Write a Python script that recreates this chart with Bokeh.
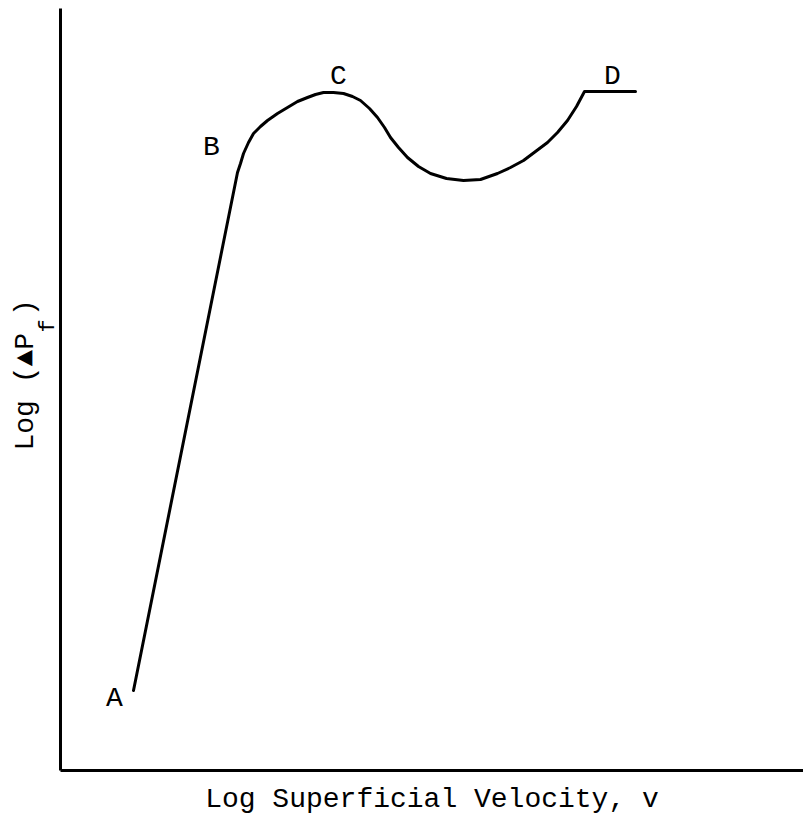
from bokeh.plotting import figure
from bokeh.models import Title, Range1d
from bokeh.embed import file_html
from bokeh.resources import INLINE
from bokeh.core.properties import value

# Curve (arbitrary log units, origin at axes corner)
log_velocity = [7.3, 17.7, 18.0, 18.3, 18.8, 19.3, 20.0, 20.7, 21.7, 22.7, 23.7, 24.7,
                25.5, 26.3, 27.3, 28.3, 29.2, 30.0, 30.9, 31.7, 32.4, 33.0, 33.8, 34.7,
                35.8, 37.0, 38.6, 40.3, 42.0, 43.7, 45.0, 46.3, 47.5, 48.7, 49.7, 50.7,
                51.6, 52.4, 57.5]
log_dp = [8.0, 59.8, 60.7, 61.7, 62.8, 63.7, 64.4, 65.0, 65.7, 66.3, 66.9, 67.3,
          67.6, 67.8, 67.8, 67.7, 67.4, 67.0, 66.2, 65.3, 64.3, 63.3, 62.3, 61.3,
          60.4, 59.7, 59.2, 59.0, 59.1, 59.7, 60.3, 61.0, 61.9, 62.8, 63.8, 65.0,
          66.4, 67.9, 67.9]

point_names = ["A", "B", "C", "D"]
point_x = [5.4, 15.1, 27.8, 55.2]
point_y = [7.2, 62.3, 69.4, 69.4]

x_title = "Log Superficial Velocity, v"
y_title_main = "Log (\u25b2P )"
y_title_sub = "f"

FONT = "Liberation Mono"
FS = "28px"

p = figure(width=803, height=823, output_backend="svg", toolbar_location=None,
           x_range=Range1d(0, 74.3), y_range=Range1d(0, 76.2),
           min_border_left=60, min_border_right=0, min_border_top=8, min_border_bottom=53)
p.outline_line_color = None
p.grid.visible = False
p.background_fill_color = "white"
p.border_fill_color = "white"

for ax in (p.xaxis[0], p.yaxis[0]):
    ax.ticker = []
    ax.major_tick_line_color = None
    ax.minor_tick_line_color = None
    ax.major_tick_out = 0
    ax.major_tick_in = 0
    ax.major_label_standoff = 0
    ax.axis_line_width = 3
    ax.axis_line_color = "black"

p.xaxis.axis_label = x_title
p.xaxis.axis_label_text_font = FONT
p.xaxis.axis_label_text_font_size = FS
p.xaxis.axis_label_text_font_style = "normal"
p.xaxis.axis_label_text_color = "black"
p.xaxis.axis_label_standoff = 13

p.line(log_velocity, log_dp, line_width=3, line_color="black", line_join="round", line_cap="round")

p.text(point_x, point_y, text=point_names, text_font=value(FONT), text_font_size=FS,
       text_align="center", text_baseline="middle", text_color="black")

# y-axis title: subscript band next to the axis, main text band further out
p.add_layout(Title(text=y_title_sub, align="left", offset=770 - 332, standoff=-1,
                   text_font=FONT, text_font_size="22px", text_font_style="normal",
                   text_color="black"), "left")
p.add_layout(Title(text=y_title_main, align="left", offset=770 - 450, standoff=-12,
                   text_font=FONT, text_font_size=FS, text_font_style="normal",
                   text_color="black"), "left")

open("out.html", "w").write(file_html(p, INLINE))
